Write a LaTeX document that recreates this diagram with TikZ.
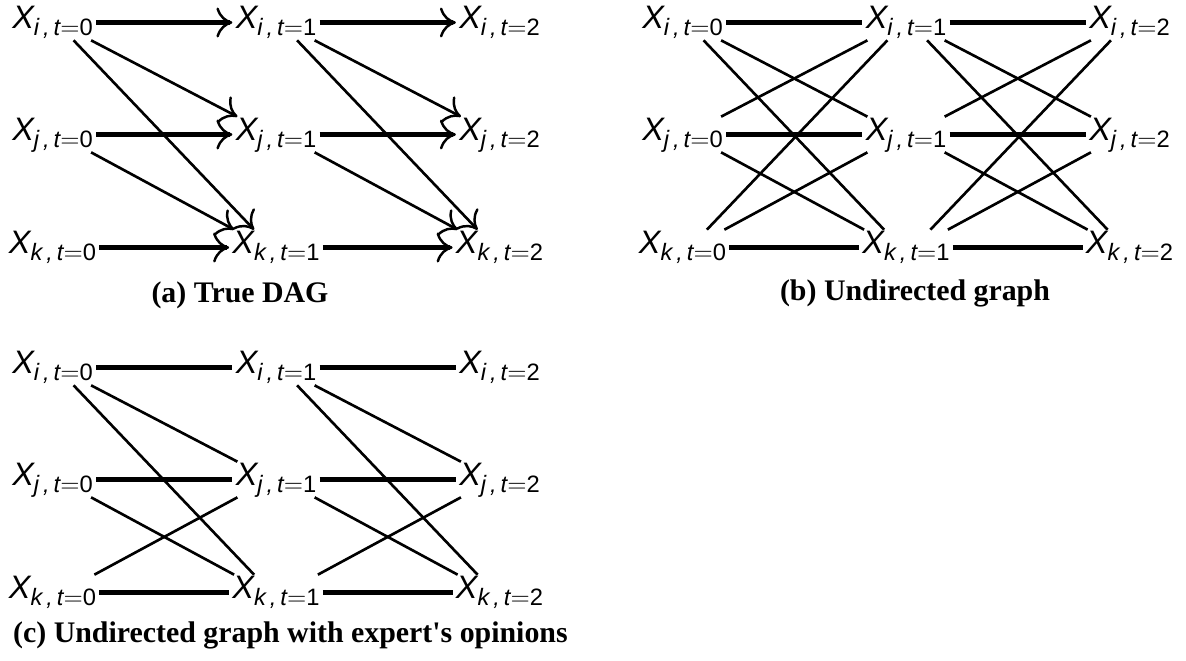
\documentclass[tikz,border=0pt]{standalone}
\usepackage{fontspec}
\setmainfont{Liberation Serif}
\setsansfont{Liberation Sans}
\usetikzlibrary{arrows.meta,positioning}

\newcommand{\xlab}[2]{{\fontsize{18.5}{18.5}\selectfont\sffamily\itshape X}\raisebox{-0.15cm}{\fontsize{13.5}{13.5}\selectfont\sffamily\itshape #1\,,\,t\upshape$=$#2}}

\begin{document}
\begin{tikzpicture}[
    x=0.02cm, y=-0.02cm,
    vnode/.style={inner xsep=0.06cm, inner ysep=0pt, text height=0.46cm, text depth=0.24cm},
    hedge/.style={line width=2.3pt},
    dedge/.style={line width=1.5pt},
    tip/.style={-{Computer Modern Rightarrow[length=3.2mm,width=6mm,line width=1.4pt]}},
    caption/.style={font=\bfseries\fontsize{17}{17}\selectfont, anchor=base}
]
    \useasboundingbox (0,0) rectangle (1186,660);

    % variables X_{v,t} of the three panels
    \foreach \p/\dx/\dy in {a/0/0, b/630/0, c/0/345}
      \foreach \t/\cx in {0/52.5, 1/276, 2/499.5}
        \foreach \v/\cy in {i/22.5, j/134.5, k/247.5}
          \node[vnode] (\p\v\t) at (\cx+\dx, \cy+\dy) {\xlab{\v}{\t}};

    % (a) true DAG
    \foreach \now/\nxt in {0/1, 1/2} {
      \foreach \v in {i,j,k}
        \draw[hedge, tip] (a\v\now) -- (a\v\nxt);
      \draw[dedge, tip] ([xshift=-0.1cm]ai\now.south east) -- ([xshift=0.1cm]aj\nxt.north west);
      \draw[dedge, tip] ([xshift=-0.45cm]ai\now.south east) -- ([xshift=0.5cm]ak\nxt.north west);
      \draw[dedge, tip] ([xshift=-0.1cm]aj\now.south east) -- ([xshift=0.1cm]ak\nxt.north west);
    }

    % (b) undirected graph
    \foreach \now/\nxt in {0/1, 1/2} {
      \foreach \v in {i,j,k}
        \draw[hedge] (b\v\now) -- (b\v\nxt);
      \draw[dedge] ([xshift=-0.1cm]bi\now.south east) -- ([xshift=0.1cm]bj\nxt.north west);
      \draw[dedge] ([xshift=-0.45cm]bi\now.south east) -- ([xshift=0.5cm]bk\nxt.north west);
      \draw[dedge] ([xshift=-0.1cm]bj\now.south east) -- ([xshift=0.1cm]bk\nxt.north west);
      \draw[dedge] ([xshift=-0.1cm]bj\now.north east) -- ([xshift=0.1cm]bi\nxt.south west);
      \draw[dedge] ([xshift=-0.45cm]bk\now.north east) -- ([xshift=0.5cm]bi\nxt.south west);
      \draw[dedge] ([xshift=-0.1cm]bk\now.north east) -- ([xshift=0.1cm]bj\nxt.south west);
    }

    % (c) undirected graph with expert's opinions
    \foreach \now/\nxt in {0/1, 1/2} {
      \foreach \v in {i,j,k}
        \draw[hedge] (c\v\now) -- (c\v\nxt);
      \draw[dedge] ([xshift=-0.1cm]ci\now.south east) -- ([xshift=0.1cm]cj\nxt.north west);
      \draw[dedge] ([xshift=-0.45cm]ci\now.south east) -- ([xshift=0.5cm]ck\nxt.north west);
      \draw[dedge] ([xshift=-0.1cm]cj\now.south east) -- ([xshift=0.1cm]ck\nxt.north west);
      \draw[dedge] ([xshift=-0.1cm]ck\now.north east) -- ([xshift=0.1cm]cj\nxt.south west);
    }

    \node[caption] (capa) at (240,302) {(a) True DAG};
    \node[caption] (capb) at (915,300) {(b) Undirected graph};
    \node[caption, anchor=base west] (capc) at (7,642) {(c) Undirected graph with expert\textquotesingle s opinions};
\end{tikzpicture}
\end{document}
